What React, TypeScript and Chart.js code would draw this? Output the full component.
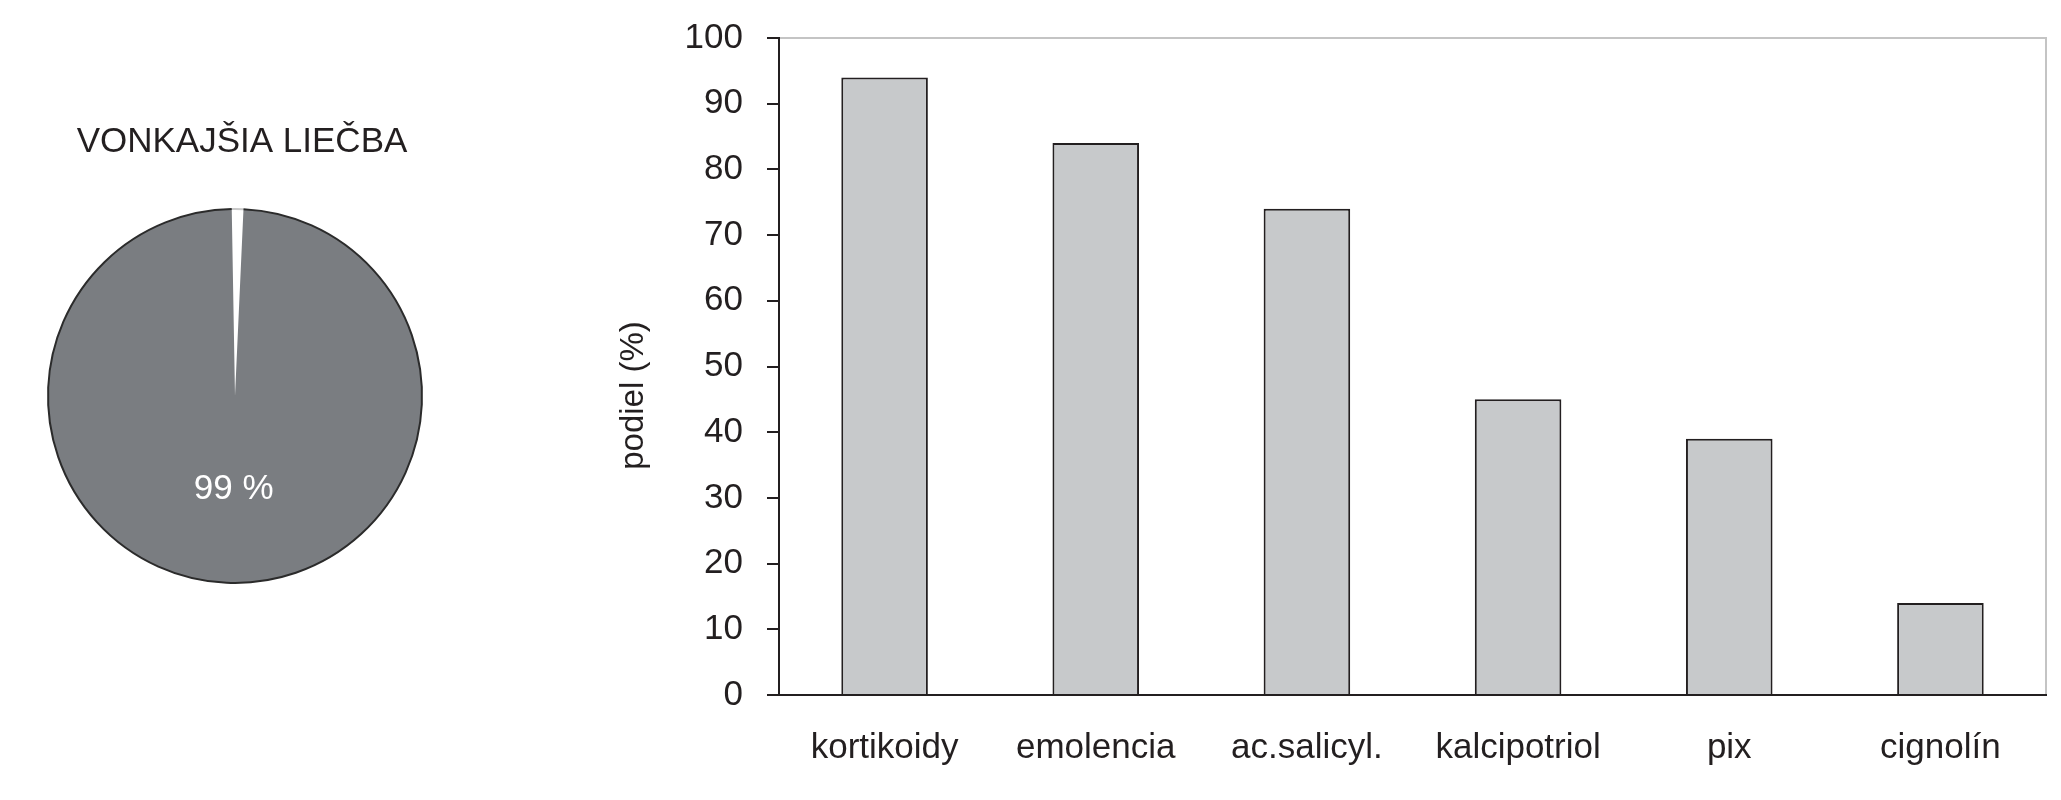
import React, { useEffect, useRef } from 'react';
import { Chart, registerables } from 'chart.js';

Chart.register(...registerables);

const FONT = '"Liberation Sans", Arial, Helvetica, sans-serif';
const TEXT = '#231f20';

// Pie (left)
const PIE_TITLE = 'VONKAJŠIA LIEČBA';
const PIE_LABELS = ['bez vonkajšej liečby', 'vonkajšia liečba'];
const PIE_VALUES = [1, 99];
const PIE_COLORS = ['#ffffff', '#7a7d81'];
const PIE_OUTLINE = ['#c8c8c8', '#2b2b2b'];

// Bars (right)
const BAR_CATEGORIES = ['kortikoidy', 'emolencia', 'ac.salicyl.', 'kalcipotriol', 'pix', 'cignolín'];
const BAR_VALUES = [94, 84, 74, 45, 39, 14];
const Y_MIN = 0;
const Y_MAX = 100;
const Y_STEP = 10;
const Y_TITLE = 'podiel (%)';

const pieDecor = {
  id: 'pieDecor',
  afterDatasetsDraw(chart: any) {
    const ctx = chart.ctx;
    const meta = chart.getDatasetMeta(0);
    meta.data.forEach((arc: any, i: number) => {
      const p = arc.getProps(['x', 'y', 'startAngle', 'endAngle', 'outerRadius'], true);
      ctx.save();
      ctx.beginPath();
      ctx.arc(p.x, p.y, p.outerRadius, p.startAngle, p.endAngle);
      ctx.strokeStyle = PIE_OUTLINE[i];
      ctx.lineWidth = 2;
      ctx.stroke();
      ctx.restore();
    });
    const big = meta.data[1];
    const pos = big.tooltipPosition(true);
    ctx.save();
    ctx.font = `35px ${FONT}`;
    ctx.fillStyle = '#ffffff';
    ctx.textAlign = 'center';
    ctx.textBaseline = 'middle';
    ctx.fillText(`${PIE_VALUES[1]} %`, pos.x, pos.y);
    // title above the pie
    const { chartArea } = chart;
    ctx.font = `35px ${FONT}`;
    ctx.fillStyle = TEXT;
    ctx.fillText(PIE_TITLE, (chartArea.left + chartArea.right) / 2 + 7, chartArea.top - 67);
    ctx.restore();
  },
};

const barDecor = {
  id: 'barDecor',
  beforeDatasetsDraw(chart: any) {
    const { ctx, chartArea } = chart;
    const { left, top, right, bottom } = chartArea;
    ctx.save();
    ctx.strokeStyle = '#c4c4c4';
    ctx.lineWidth = 2;
    ctx.beginPath();
    ctx.moveTo(left + 1, top);
    ctx.lineTo(right, top);
    ctx.lineTo(right, bottom - 1);
    ctx.stroke();
    ctx.restore();
  },
  afterDraw(chart: any) {
    const { ctx, chartArea } = chart;
    const cx = chartArea.left - 145;
    const cy = (chartArea.top + chartArea.bottom) / 2 + 29;
    ctx.save();
    ctx.translate(cx, cy);
    ctx.rotate(-Math.PI / 2);
    ctx.font = `33px ${FONT}`;
    ctx.fillStyle = TEXT;
    ctx.textAlign = 'center';
    ctx.textBaseline = 'middle';
    ctx.fillText(Y_TITLE, 0, 0);
    ctx.restore();
  },
};

function PieChart() {
  const ref = useRef<HTMLCanvasElement | null>(null);
  useEffect(() => {
    if (!ref.current) return;
    const chart = new Chart(ref.current, {
      type: 'pie',
      data: {
        labels: PIE_LABELS,
        datasets: [
          {
            data: PIE_VALUES,
            backgroundColor: PIE_COLORS,
            borderWidth: 0,
          },
        ],
      },
      options: {
        animation: false,
        responsive: true,
        maintainAspectRatio: false,
        devicePixelRatio: 1,
        rotation: -1,
        layout: { padding: { left: 48, right: 62, top: 209, bottom: 217 } },
        plugins: {
          legend: { display: false },
          tooltip: { enabled: false },
          title: { display: false },
        },
      },
      plugins: [pieDecor],
    } as any);
    return () => chart.destroy();
  }, []);
  return <canvas ref={ref} />;
}

function BarChart() {
  const ref = useRef<HTMLCanvasElement | null>(null);
  useEffect(() => {
    if (!ref.current) return;
    const chart = new Chart(ref.current, {
      type: 'bar',
      data: {
        labels: BAR_CATEGORIES,
        datasets: [
          {
            data: BAR_VALUES,
            backgroundColor: '#c7c9cb',
            borderColor: TEXT,
            borderWidth: 2,
            borderSkipped: 'bottom',
            categoryPercentage: 1,
            barPercentage: 0.41,
          },
        ],
      },
      options: {
        animation: false,
        responsive: true,
        maintainAspectRatio: false,
        devicePixelRatio: 1,
        layout: { padding: { left: 0, right: 15, top: 38, bottom: 10 } },
        plugins: {
          legend: { display: false },
          tooltip: { enabled: false },
        },
        scales: {
          x: {
            grid: { display: false },
            border: { display: true, color: TEXT, width: 2 },
            ticks: {
              color: TEXT,
              font: { family: FONT, size: 35 },
              padding: 24,
              maxRotation: 0,
              autoSkip: false,
            },
            afterFit: (scale: any) => {
              scale.height = 95;
            },
          },
          y: {
            min: Y_MIN,
            max: Y_MAX,
            grid: {
              drawOnChartArea: false,
              drawTicks: true,
              tickLength: 12,
              color: TEXT,
              lineWidth: 2,
            },
            border: { display: true, color: TEXT, width: 2 },
            ticks: {
              stepSize: Y_STEP,
              color: TEXT,
              font: { family: FONT, size: 35 },
              padding: 24,
            },
            afterFit: (scale: any) => {
              scale.width = 299;
              scale.paddingTop = 0;
              scale.paddingBottom = 0;
            },
          },
        },
      },
      plugins: [barDecor],
    } as any);
    return () => chart.destroy();
  }, []);
  return <canvas ref={ref} />;
}

export default function App() {
  return (
    <div
      style={{
        position: 'absolute',
        left: 0,
        top: 0,
        width: 2061,
        height: 800,
        background: '#ffffff',
      }}
    >
      <div style={{ position: 'absolute', left: 0, top: 0, width: 484, height: 800 }}>
        <PieChart />
      </div>
      <div style={{ position: 'absolute', left: 480, top: 0, width: 1581, height: 800 }}>
        <BarChart />
      </div>
    </div>
  );
}
